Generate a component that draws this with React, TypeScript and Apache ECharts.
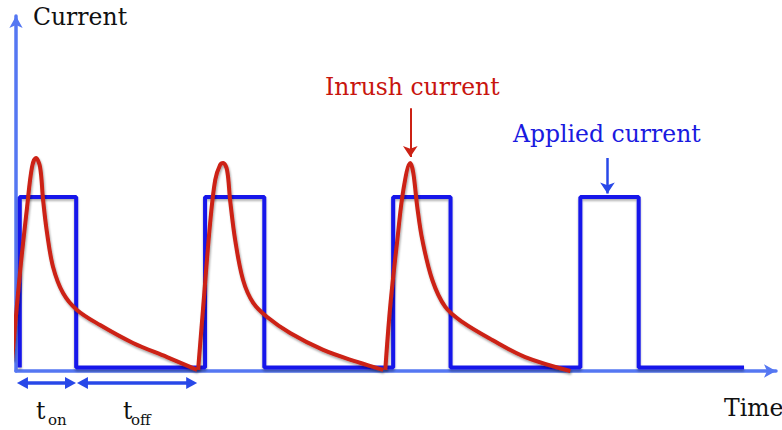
import React, { useEffect, useRef } from "react";
import * as echarts from "echarts";

// Applied (square-wave) current, time in arbitrary units, current in arbitrary units
const pulseStarts = [0.2, 10.05, 20.05, 30.0];
const pulseEnds = [3.2, 13.2, 23.1, 33.1];
const appliedHigh = 10;
const appliedLow = 0.2;
const appliedEnd = 38.7;

// Inrush current, one array per cycle: [time, current]
const inrushCycle1 = [
  [-0.21, 0.63], [0.21, 5.63], [0.59, 9.43], [0.85, 11.72], [1.06, 12.24],
  [1.28, 11.72], [1.44, 9.83], [1.65, 7.93], [1.97, 5.98], [2.5, 4.48],
  [3.24, 3.51], [4.47, 2.64], [6.22, 1.61], [8.03, 0.8], [9.63, 0.06],
];
const inrushCycle2 = [
  [9.68, 0.06], [9.95, 3.68], [10.32, 8.51], [10.59, 10.98], [10.85, 11.84],
  [11.01, 11.95], [11.22, 11.55], [11.38, 9.83], [11.65, 7.53], [12.07, 5.23],
  [12.61, 3.91], [13.35, 3.1], [14.57, 2.18], [16.33, 1.21], [18.14, 0.52], [19.52, 0.06],
];
const inrushCycle3 = [
  [19.63, 0.06], [19.89, 3.68], [20.27, 7.53], [20.59, 10.4], [20.96, 11.95],
  [21.12, 11.38], [21.33, 9.43], [21.6, 7.53], [22.13, 5.23], [22.82, 3.68],
  [23.72, 2.82], [25.32, 1.78], [27.07, 0.8], [29.47, 0.0],
];

// Annotation arrows: [start, end] in data units
const inrushArrow = [[20.96, 15.1], [20.96, 12.3]];
const appliedArrow = [[31.44, 12.24], [31.44, 10.2]];
const tOnSpan = [0.05, 3.19];
const tOffSpan = [3.24, 9.63];
const spanLevel = -0.69;

const xMax = 40.4;
const yMax = 20.4;

const labels = {
  yAxis: "Current",
  xAxis: "Time",
  inrush: "Inrush current",
  applied: "Applied current",
  t: "t",
  on: "on",
  off: "off",
};

const AXIS_COLOR = "#5577f2";
const BLUE = "#1414ea";
const RED = "#cc2114";
const ARROW_BLUE = "#2848e8";
const FONT = '"DejaVu Serif", "Liberation Serif", serif';

function buildApplied(): number[][] {
  const out: number[][] = [];
  pulseStarts.forEach((s, i) => {
    out.push([s, appliedLow], [s, appliedHigh], [pulseEnds[i], appliedHigh], [pulseEnds[i], appliedLow]);
  });
  out.push([appliedEnd, appliedLow]);
  return out;
}

function arrowLine(a: number[][], endOnly = false) {
  if (endOnly) return [{ coord: a[0], symbol: "none" }, { coord: a[1], symbol: "arrow" }];
  return [{ coord: a[0] }, { coord: a[1] }];
}

function text(x: number, y: number, t: string, size: number, fill: string) {
  return {
    type: "text",
    x,
    y,
    silent: true,
    style: { text: t, font: `${size}px ${FONT}`, fill, align: "left", verticalAlign: "middle" },
  };
}

function doubleArrow(x1: number, x2: number, y: number, color: string) {
  const head = 11;
  const half = 6;
  return [
    { type: "line", silent: true, shape: { x1: x1 + head - 2, y1: y, x2: x2 - head + 2, y2: y }, style: { stroke: color, lineWidth: 3.5 } },
    { type: "polygon", silent: true, shape: { points: [[x1, y], [x1 + head, y - half], [x1 + head, y + half]] }, style: { fill: color } },
    { type: "polygon", silent: true, shape: { points: [[x2, y], [x2 - head, y - half], [x2 - head, y + half]] }, style: { fill: color } },
  ];
}

export default function App() {
  const ref = useRef<HTMLDivElement>(null);
  useEffect(() => {
    if (!ref.current) return;
    const chart = echarts.init(ref.current, undefined, { renderer: "svg" });
    const redLine = {
      color: RED,
      width: 4,
      shadowColor: "rgba(0,0,0,0.35)",
      shadowBlur: 2,
      shadowOffsetX: 1,
      shadowOffsetY: 2,
    };
    const redSeries = (data: number[][], extra: any = {}) => ({
      type: "line",
      data,
      showSymbol: false,
      smooth: 0.35,
      clip: false,
      silent: true,
      z: 3,
      lineStyle: redLine,
      ...extra,
    });
    const axisCommon = {
      type: "value",
      axisTick: { show: false },
      axisLabel: { show: false },
      splitLine: { show: false },
      axisLine: {
        show: true,
        onZero: false,
        symbol: ["none", "arrow"],
        symbolSize: [10, 12],
        lineStyle: { color: AXIS_COLOR, width: 3.5 },
      },
    };
    chart.setOption({
      animation: false,
      grid: { left: 16, right: 6, top: 16, bottom: 59 },
      xAxis: { ...axisCommon, min: 0, max: xMax },
      yAxis: { ...axisCommon, min: 0, max: yMax },
      series: [
        {
          type: "line",
          data: buildApplied(),
          showSymbol: false,
          clip: false,
          silent: true,
          z: 2,
          lineStyle: {
            color: BLUE,
            width: 4,
            shadowColor: "rgba(0,0,0,0.3)",
            shadowBlur: 2,
            shadowOffsetX: 0,
            shadowOffsetY: 2,
          },
          markLine: {
            silent: true,
            symbolSize: 11,
            label: { show: false },
            lineStyle: { color: ARROW_BLUE, width: 2.5, type: "solid" },
            data: [arrowLine(appliedArrow, true)],
          },
        },
        redSeries(inrushCycle1),
        redSeries(inrushCycle2),
        redSeries(inrushCycle3, {
          markLine: {
            silent: true,
            symbolSize: 11,
            label: { show: false },
            lineStyle: { color: RED, width: 2, type: "solid" },
            data: [arrowLine(inrushArrow, true)],
          },
        }),
      ],
    });

    const toPx = (p: number[]) => chart.convertToPixel({ gridIndex: 0 }, p) as number[];
    const on0 = toPx([tOnSpan[0], spanLevel]);
    const on1 = toPx([tOnSpan[1], spanLevel]);
    const off0 = toPx([tOffSpan[0], spanLevel]);
    const off1 = toPx([tOffSpan[1], spanLevel]);

    chart.setOption({
      graphic: [
        text(33, 17, labels.yAxis, 23.5, "#111"),
        text(724, 408, labels.xAxis, 23.5, "#111"),
        text(325, 87, labels.inrush, 23.5, "#c8150e"),
        text(513, 134, labels.applied, 23.5, "#1a1ae0"),
        text(36, 411, labels.t, 23.5, "#111"),
        text(48, 420, labels.on, 15, "#111"),
        text(123, 411, labels.t, 23.5, "#111"),
        text(131, 420, labels.off, 15, "#111"),
        ...doubleArrow(on0[0], on1[0], on0[1], ARROW_BLUE),
        ...doubleArrow(off0[0], off1[0], off0[1], ARROW_BLUE),
      ],
    });
    return () => chart.dispose();
  }, []);
  return (
    <div
      ref={ref}
      style={{ position: "fixed", left: 0, top: 0, width: 782, height: 430, background: "#fff" }}
    />
  );
}
